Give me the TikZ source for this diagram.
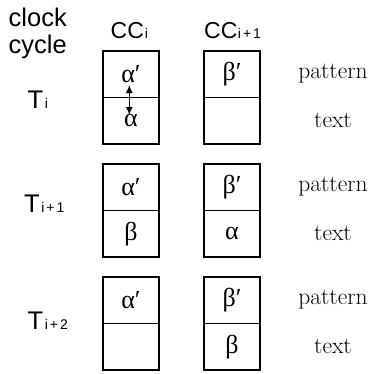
\documentclass[tikz,border=0pt]{standalone}
\usepackage{fontspec}
\usetikzlibrary{arrows.meta,calc}
\newfontfamily\sansf{Liberation Sans}
\newfontfamily\greekf{Liberation Serif}
\newcommand{\mysub}[1]{{\fontsize{14}{14}\selectfont #1}}
\begin{document}
\begin{tikzpicture}[x=1pt,y=-1pt,
  cell/.style={draw, line width=1.9pt, outer sep=0pt, minimum width=56pt, minimum height=46.5pt, inner sep=0pt, font=\greekf\fontsize{26}{26}\selectfont},
  lbl/.style={anchor=base west, inner sep=0pt},
  big/.style={lbl, font=\sansf\fontsize{25.5}{27}\selectfont},
  cc/.style={lbl, font=\sansf\fontsize{23}{23}\selectfont},
  word/.style={anchor=base, inner sep=0pt, font=\fontsize{23.5}{23.5}\selectfont},
  arr/.style={{Latex[length=8pt,width=7pt]}-{Latex[length=8pt,width=7pt]}, line width=1.3pt}]
\useasboundingbox (0,0) rectangle (375,373);
% header labels
\node[big] (clk) at (8.5,26) {clock};
\node[big] (cyc) at (8.5,53.3) {cycle};
\node[cc] (cca) at (110.5,38) {CC\hspace{1pt}\mysub{i}};
\node[cc] (ccb) at (204,38) {CC\hspace{0.5pt}\mysub{i\hspace{2pt}+\hspace{2pt}1}};
% row labels
\node[big] (t0) at (27.5,108.3) {T\hspace{1.5pt}\mysub{i}};
\node[big] (t1) at (24,212.3) {T\hspace{1.5pt}\mysub{i\hspace{2pt}+\hspace{2pt}1}};
\node[big] (t2) at (27.5,329) {T\hspace{1.5pt}\mysub{i\hspace{2pt}+\hspace{2pt}2}};
% group 1
\node[cell, anchor=north west] (a1p) at (103,51) {α′};
\node[cell, anchor=north] (a1t) at (a1p.south) {α};
\node[cell, anchor=north west] (b1p) at (204,51) {β′};
\node[cell, anchor=north] (b1t) at (b1p.south) {};
% group 2
\node[cell, anchor=north west] (a2p) at (103,164) {α′};
\node[cell, anchor=north] (a2t) at (a2p.south) {β};
\node[cell, anchor=north west] (b2p) at (204,164) {β′};
\node[cell, anchor=north] (b2t) at (b2p.south) {α};
% group 3
\node[cell, anchor=north west] (a3p) at (103,277) {α′};
\node[cell, anchor=north] (a3t) at (a3p.south) {};
\node[cell, anchor=north west] (b3p) at (204,277) {β′};
\node[cell, anchor=north] (b3t) at (b3p.south) {β};
% right labels
\node[word] (p1) at (333,78.5) {pattern};
\node[word] (x1) at (333,127.5) {text};
\node[word] (p2) at (333,191.5) {pattern};
\node[word] (x2) at (333,240.5) {text};
\node[word] (p3) at (333,304.5) {pattern};
\node[word] (x3) at (333,353.5) {text};
% swap arrow
\draw[arr] ($(a1p.south)+(-1.7,-12.5)$) -- ($(a1t.north)+(-1.7,17.5)$);
\end{tikzpicture}
\end{document}
